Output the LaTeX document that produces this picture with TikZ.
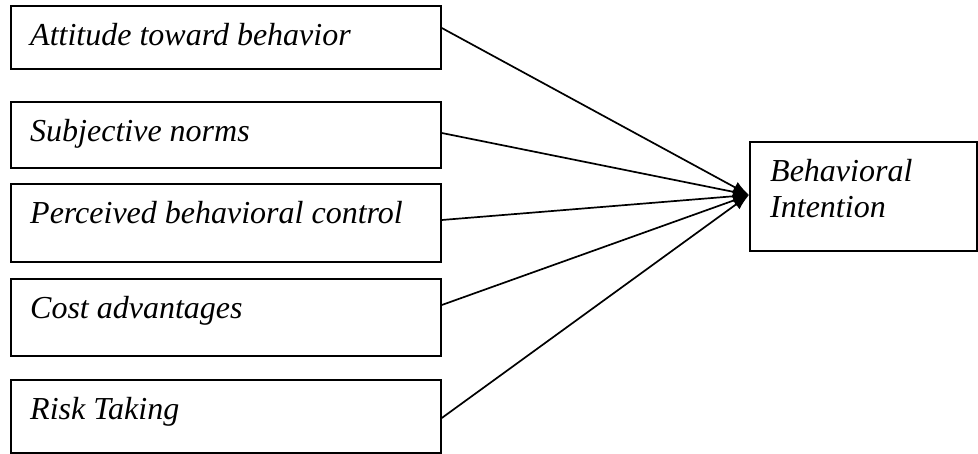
\documentclass[tikz,border=0pt]{standalone}
\usepackage{fontspec}
\setmainfont{Liberation Serif}
\usetikzlibrary{calc,arrows.meta}
\begin{document}
\begin{tikzpicture}[x=1pt,y=-1pt,
  box/.style={draw=black,line width=1.8pt,inner sep=0pt,anchor=north west},
  lbl/.style={anchor=base west,inner sep=0pt,font=\fontsize{32}{38}\selectfont\itshape},
  conn/.style={line width=1.7pt,-{Latex[length=16pt,width=12pt]}}]
\useasboundingbox (0,0) rectangle (978,454);
\node[box,minimum width=430pt,minimum height=63pt] (b1) at (10,5) {};
\node[box,minimum width=430pt,minimum height=66pt] (b2) at (10,101) {};
\node[box,minimum width=430pt,minimum height=78pt] (b3) at (10,183) {};
\node[box,minimum width=430pt,minimum height=77pt] (b4) at (10,278) {};
\node[box,minimum width=430pt,minimum height=73pt] (b5) at (10,379) {};
\node[box,minimum width=227pt,minimum height=109pt] (bi) at (749,141) {};
\node[lbl] (t1) at ($(b1.north west)+(20,41)$) {Attitude toward behavior};
\node[lbl] (t2) at ($(b2.north west)+(20,41)$) {Subjective norms};
\node[lbl] (t3) at ($(b3.north west)+(20,41)$) {Perceived behavioral control};
\node[lbl] (t4) at ($(b4.north west)+(20,41)$) {Cost advantages};
\node[lbl] (t5) at ($(b5.north west)+(20,41)$) {Risk Taking};
\node[lbl] (ti1) at ($(bi.north west)+(21,41)$) {Behavioral};
\node[lbl] (ti2) at ($(bi.north west)+(21,77)$) {Intention};
\coordinate (tip) at ($(bi.north west)+(0,54)$);
\draw[conn] ($(b1.north east)+(0,23)$) -- (tip);
\draw[conn] ($(b2.north east)+(0,32)$) -- (tip);
\draw[conn] ($(b3.north east)+(0,37)$) -- (tip);
\draw[conn] ($(b4.north east)+(0,27)$) -- (tip);
\draw[conn] ($(b5.north east)+(0,39)$) -- (tip);
\end{tikzpicture}
\end{document}
